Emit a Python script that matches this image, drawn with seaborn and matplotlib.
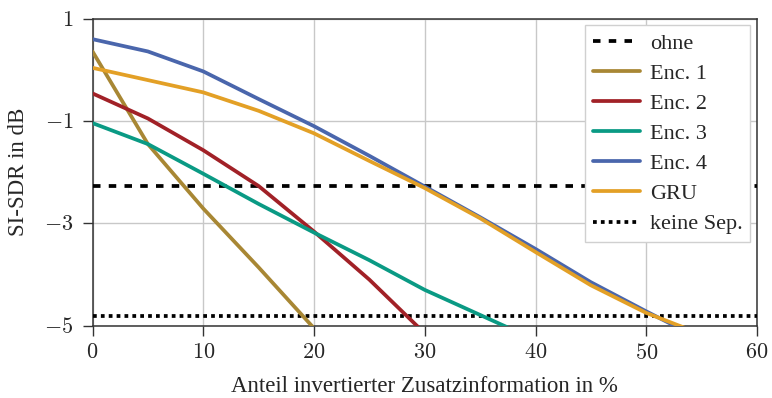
import numpy as np
import pandas as pd
import matplotlib
matplotlib.use("Agg")
import matplotlib.pyplot as plt
import seaborn as sns
from matplotlib.ticker import FuncFormatter, FixedLocator

# ---- data ----
x_enc1 = [0, 5, 10, 15, 20]
enc1 = [0.36, -1.45, -2.71, -3.86, -5.05]
x_enc2 = [0, 5, 10, 15, 20, 25, 30]
enc2 = [-0.46, -0.95, -1.57, -2.27, -3.16, -4.10, -5.15]
x_enc3 = [0, 5, 10, 15, 20, 25, 30, 35, 40]
enc3 = [-1.04, -1.45, -2.03, -2.62, -3.18, -3.72, -4.30, -4.79, -5.28]
x_enc4 = [0, 5, 10, 15, 20, 25, 30, 35, 40, 45, 50, 55]
enc4 = [0.60, 0.36, -0.03, -0.57, -1.10, -1.68, -2.28, -2.88, -3.50, -4.15, -4.72, -5.27]
x_gru = [0, 5, 10, 15, 20, 25, 30, 35, 40, 45, 50, 55]
gru = [0.04, -0.20, -0.44, -0.80, -1.24, -1.78, -2.31, -2.90, -3.56, -4.21, -4.75, -5.17]
ohne = -2.26
keine_sep = -4.81

x_ticks = [0, 10, 20, 30, 40, 50, 60]
y_ticks = [1, -1, -3, -5]
labels = ["ohne", "Enc. 1", "Enc. 2", "Enc. 3", "Enc. 4", "GRU", "keine Sep."]

colors = {
    "Enc. 1": "#A88734",
    "Enc. 2": "#A12127",
    "Enc. 3": "#0A9A84",
    "Enc. 4": "#4A66AC",
    "GRU": "#E3A026",
}

sns.set_theme(style="white")
plt.rcParams["font.family"] = ["Liberation Serif", "DejaVu Serif"]
plt.rcParams["mathtext.fontset"] = "cm"

fig = plt.figure(figsize=(7.72, 3.98), dpi=100)
ax = fig.add_axes([92.5 / 772, 1 - 325.7 / 398, (757 - 92.5) / 772, (325.7 - 18.7) / 398])

lw = 2.7
ax.axhline(ohne, color="black", lw=lw, linestyle=(0, (2, 2.2)), label=labels[0], zorder=3)
series = [(x_enc1, enc1, "Enc. 1"), (x_enc2, enc2, "Enc. 2"), (x_enc3, enc3, "Enc. 3"),
          (x_enc4, enc4, "Enc. 4"), (x_gru, gru, "GRU")]
for xs, ys, name in series:
    sns.lineplot(x=xs, y=ys, ax=ax, color=colors[name], lw=lw, label=name, zorder=4)
ax.axhline(keine_sep, color="black", lw=lw, linestyle=(0, (1, 1.1)), label=labels[-1], zorder=3)

ax.set_xlim(0, 60)
ax.set_ylim(-5, 1)
ax.xaxis.set_major_locator(FixedLocator(x_ticks))
ax.yaxis.set_major_locator(FixedLocator(y_ticks))
fmt = FuncFormatter(lambda v, p: f"${v:g}$")
ax.xaxis.set_major_formatter(fmt)
ax.yaxis.set_major_formatter(fmt)
ax.tick_params(axis="both", which="major", direction="out", length=7.5, width=1,
               color="#333333", labelsize=16, pad=6, bottom=True, left=True)

ax.grid(True, color="#c8c8c8", lw=1)
ax.set_axisbelow(True)
for s in ax.spines.values():
    s.set_color("#333333")
    s.set_linewidth(1.1)

ax.set_xlabel("Anteil invertierter Zusatzinformation in %", fontsize=16.5)
ax.set_ylabel("SI-SDR in dB", fontsize=16.5)
ax.xaxis.set_label_coords(0.5, -0.163)
ax.yaxis.set_label_coords(-0.096, 0.5)

leg = ax.legend(loc="upper right", fontsize=16, frameon=True, fancybox=False,
                edgecolor="#d0d0d0", framealpha=1, handlelength=2.1, handletextpad=0.45,
                labelspacing=0.43, borderpad=0.35, borderaxespad=0.3)
leg.get_frame().set_linewidth(1)

fig.savefig("out.png", dpi=100)
